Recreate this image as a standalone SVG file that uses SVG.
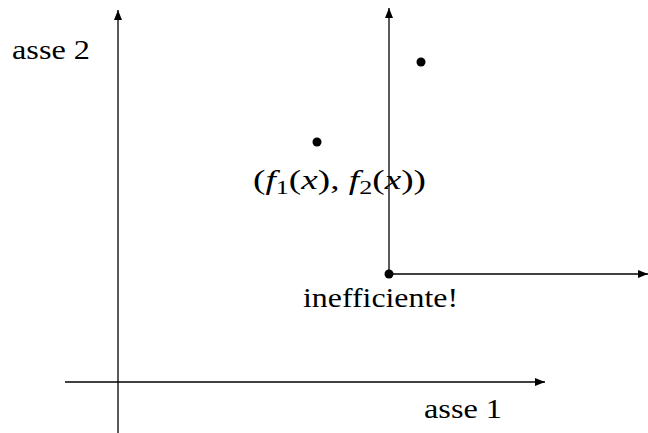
<svg xmlns="http://www.w3.org/2000/svg" width="648" height="433" viewBox="0 0 648 433">
<style>
.ax{stroke:#000;stroke-width:1.3;fill:none}
.t{font-family:"Liberation Serif","Times New Roman",serif;font-size:27px;fill:#000}
.i{font-style:italic}
.s{font-size:19px}
</style>
<defs>
<marker id="ah" viewBox="0 0 10 8" refX="10" refY="4" markerWidth="10" markerHeight="8" markerUnits="userSpaceOnUse" orient="auto">
<path d="M0,0 L10,4 L0,8 Z" fill="#000"/>
</marker>
</defs>
<g id="connectors">
<line class="ax" x1="118" y1="433" x2="118" y2="10" marker-end="url(#ah)"/>
<line class="ax" x1="65" y1="382" x2="545" y2="382" marker-end="url(#ah)"/>
<line class="ax" x1="389" y1="274" x2="389" y2="8" marker-end="url(#ah)"/>
<line class="ax" x1="389" y1="274" x2="648" y2="274" marker-end="url(#ah)"/>
</g>
<g id="labels">
<text class="t" x="12" y="59" textLength="78" lengthAdjust="spacingAndGlyphs">asse 2</text>
<text class="t" x="424" y="418" textLength="78" lengthAdjust="spacingAndGlyphs">asse 1</text>
<text class="t" x="303" y="307" textLength="155" lengthAdjust="spacingAndGlyphs">inefficiente!</text>
</g>
<g id="point-f">
<circle cx="317" cy="142" r="4.5" fill="#000"/>
<text class="t" x="253" y="189" textLength="173" lengthAdjust="spacingAndGlyphs">(<tspan class="i">f</tspan><tspan class="s" dy="5">1</tspan><tspan dy="-5">(</tspan><tspan class="i">x</tspan>), <tspan class="i">f</tspan><tspan class="s" dy="5">2</tspan><tspan dy="-5">(</tspan><tspan class="i">x</tspan>))</text>
</g>
<g id="point-dominated">
<circle cx="389" cy="274" r="4.5" fill="#000"/>
</g>
<g id="point-upper">
<circle cx="421" cy="62" r="4.5" fill="#000"/>
</g>
</svg>
